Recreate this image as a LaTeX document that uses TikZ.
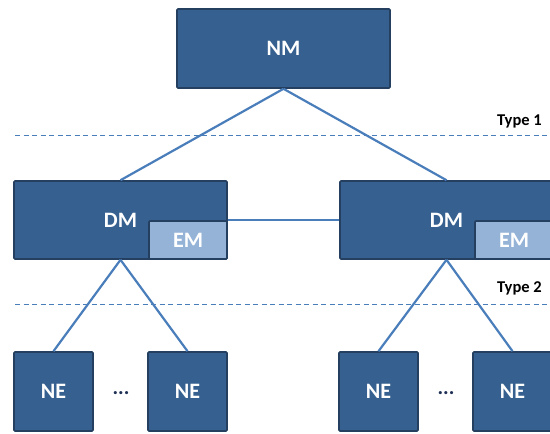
\documentclass[tikz,border=0pt]{standalone}
\usepackage{fontspec}
\setmainfont{Carlito}
\definecolor{boxfill}{HTML}{36608F}
\definecolor{boxedge}{HTML}{243F60}
\definecolor{emfill}{HTML}{95B3D7}
\definecolor{linkblue}{HTML}{4A7EBB}
\definecolor{dotcol}{HTML}{1F3055}
\tikzset{
  unit/.style={draw=boxedge, fill=boxfill, line width=1.6pt, rounded corners=1pt,
    inner sep=0pt, text=white, font=\fontsize{22}{26}\selectfont\bfseries},
  embox/.style={unit, fill=emfill},
  link/.style={draw=linkblue, line width=2.2pt},
  levelline/.style={draw=linkblue, line width=1pt, dash pattern=on 5pt off 3.5pt},
  levellabel/.style={anchor=east, inner sep=0pt, font=\fontsize{16.5}{19}\selectfont\bfseries}
}
\begin{document}
\begin{tikzpicture}[x=1pt,y=-1pt]
\useasboundingbox (0,0) rectangle (550,434);
\clip (0,0) rectangle (550,434);

% management levels
\coordinate (t1a) at (15,135);
\coordinate (t1b) at (550,135);
\coordinate (t2a) at (15,304);
\coordinate (t2b) at (550,304);
\draw[levelline] (t1a) -- (t1b);
\draw[levelline] (t2a) -- (t2b);
\node[levellabel] (type1) at (542,121) {Type 1};
\node[levellabel] (type2) at (542,288) {Type 2};

% network manager
\node[unit, minimum width=213pt, minimum height=79pt] (nm) at (283.5,48.5) {NM};

% domain managers with element managers
\node[unit, minimum width=213pt, minimum height=78pt] (dm1) at (120.5,220) {DM};
\node[unit, minimum width=213pt, minimum height=78pt] (dm2) at (446.5,220) {DM};
\node[embox, minimum width=78pt, minimum height=38pt, anchor=south east] (em1) at (dm1.south east) {EM};
\node[embox, minimum width=78pt, minimum height=38pt, anchor=south east] (em2) at (dm2.south east) {EM};

% network elements
\node[unit, minimum width=79pt, minimum height=79pt] (ne1) at (53.5,391.5) {NE};
\node[unit, minimum width=79pt, minimum height=79pt] (ne2) at (187.5,391.5) {NE};
\node[unit, minimum width=79pt, minimum height=79pt] (ne3) at (378.5,391.5) {NE};
\node[unit, minimum width=79pt, minimum height=79pt] (ne4) at (512.5,391.5) {NE};
\node[text=dotcol, inner sep=0pt, font=\fontsize{21}{25}\selectfont\bfseries] (dots1) at (121,393) {...};
\node[text=dotcol, inner sep=0pt, font=\fontsize{21}{25}\selectfont\bfseries] (dots2) at (446,393) {...};

% links
\draw[link] (nm.south) -- (dm1.north);
\draw[link] (nm.south) -- (dm2.north);
\draw[link] (dm1.east) -- (dm2.west);
\draw[link] (dm1.south) -- (ne1.north);
\draw[link] (dm1.south) -- (ne2.north);
\draw[link] (dm2.south) -- (ne3.north);
\draw[link] (dm2.south) -- (ne4.north);
\end{tikzpicture}
\end{document}
